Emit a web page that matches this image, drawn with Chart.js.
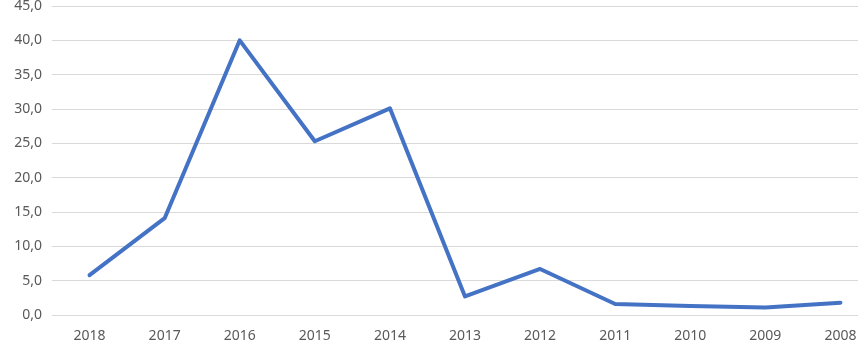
<!DOCTYPE html>
<html>
<head>
<meta charset="utf-8">
<script src="https://cdn.jsdelivr.net/npm/chart.js@4/dist/chart.umd.min.js"></script>
<style>
  html, body { margin: 0; padding: 0; background: #fff; overflow: hidden; }
  #wrap { position: absolute; left: 0; top: 0; width: 878px; height: 344px; }
</style>
</head>
<body>
<div id="wrap"><canvas id="chart"></canvas></div>
<script>
////////////data////////////
var years = ['2018', '2017', '2016', '2015', '2014', '2013', '2012', '2011', '2010', '2009', '2008'];
var values = [5.8, 14.1, 40.0, 25.3, 30.1, 2.7, 6.7, 1.6, 1.3, 1.1, 1.8];

////////////create chart////////////
var myChart = new Chart(document.getElementById('chart'), {
  type: 'line',
  data: {
    labels: years,
    datasets: [{
      data: values,
      borderColor: '#4472C4',
      borderWidth: 4,
      borderJoinStyle: 'round',
      borderCapStyle: 'round',
      pointRadius: 0,
      fill: false,
      tension: 0
    }]
  },
  options: {
    responsive: true,
    maintainAspectRatio: false,
    animation: false,
    layout: { padding: { top: 6, right: 0, left: 0, bottom: 0 } },
    plugins: { legend: { display: false }, tooltip: { enabled: false } },
    scales: {
      x: {
        offset: true,
        grid: { display: false, drawTicks: false },
        border: { display: false },
        ticks: {
          color: '#595959',
          font: { family: 'Noto Sans', size: 14 },
          padding: 13,
          maxRotation: 0,
          autoSkip: false
        },
        afterFit: function(scale) {
          scale.height = 29;
          scale.paddingLeft = 0;
          scale.paddingRight = 0;
        }
      },
      y: {
        min: 0,
        max: 45,
        grid: { color: '#d9d9d9', lineWidth: 1, drawTicks: false },
        border: { display: false },
        ticks: {
          stepSize: 5,
          color: '#595959',
          font: { family: 'Noto Sans', size: 14 },
          padding: 10,
          callback: function(v) { return v.toFixed(1).replace('.', ','); }
        },
        afterFit: function(scale) {
          scale.width = 52;
          scale.paddingTop = 0;
          scale.paddingBottom = 0;
        }
      }
    }
  }
});
</script>
</body>
</html>
